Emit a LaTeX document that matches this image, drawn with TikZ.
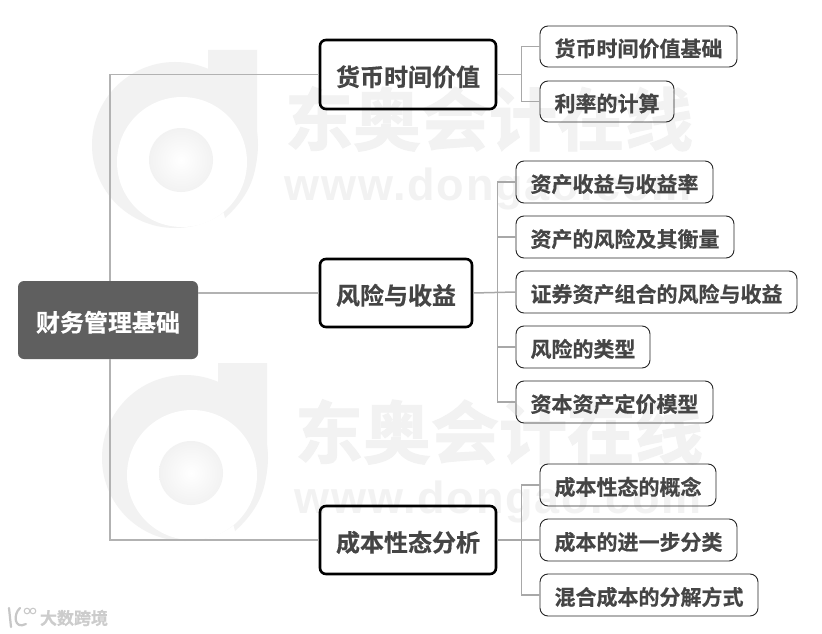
\documentclass[tikz,border=0pt]{standalone}
\usepackage{fontspec}
\newfontfamily\cjkb[FakeBold=0.5]{Noto Sans CJK SC Bold}
\newfontfamily\cjkw[FakeBold=1.6]{Noto Sans CJK SC Bold}
\newfontfamily\wmlat[LetterSpace=4]{Liberation Sans Bold}
\definecolor{wm}{HTML}{F2F2F2}
\definecolor{ink}{HTML}{454545}
\definecolor{rootc}{HTML}{5F5F5F}
\definecolor{linkc}{HTML}{B2B2B2}
\definecolor{linkb}{HTML}{A8A8A8}
\tikzset{
  rootbox/.style={fill=rootc,rounded corners=6,text=white,inner sep=0,text height=23pt,text depth=0pt,font=\cjkb\fontsize{24}{24}\selectfont},
  topicbox/.style={draw=black,line width=2.6,rounded corners=6,text=ink,inner sep=0,text height=23pt,text depth=0pt,font=\cjkb\fontsize{24}{24}\selectfont},
  subbox/.style={draw=black!85,line width=0.9,rounded corners=8,text=ink,inner sep=0,text height=20pt,text depth=0pt,font=\cjkb\fontsize{21}{21}\selectfont},
  link/.style={draw=linkc,line width=1.5},
  sublink/.style={draw=linkb,line width=1.5},
  wmcn/.style={text=wm,inner sep=0,font=\cjkw\fontsize{68}{68}\selectfont},
  wmen/.style={text=wm,inner sep=0,font=\wmlat\fontsize{45}{45}\selectfont},
  brand/.style={text=black!20,inner sep=0,font=\cjkb\fontsize{17}{17}\selectfont}
}
\newcommand{\wmlogo}[2]{%
  \begin{scope}[shift={(#1,#2)}]
    \fill[wm] (175,145) circle[radius=83];
    \fill[wm] (208,50) -- (257,50) -- (257,150) .. controls (257,180) and (245,200) .. (225,218) -- (208,150) -- cycle;
    \fill[white] (182,162) circle[radius=65];
    \shade[inner color=white,outer color=wm] (181,160) circle[radius=32];
    \node[wmcn] (cn#2) at (489,119) {东奥会计在线};
    \node[wmen] (en#2) at (488,189) {www.dongao.com};
  \end{scope}}
\begin{document}
\begin{tikzpicture}[x=1pt,y=-1pt]
\useasboundingbox (0,0) rectangle (822,634);
\fill[white] (0,0) rectangle (822,634);
\wmlogo{0}{0}
\wmlogo{10}{313}
\node[rootbox,minimum width=180,minimum height=78] (root) at (108,320) {财务管理基础};
\node[topicbox,minimum width=176,minimum height=69] (a) at (408,74.5) {货币时间价值};
\node[topicbox,minimum width=152,minimum height=68] (b) at (396,293) {风险与收益};
\node[topicbox,minimum width=176,minimum height=68] (c) at (408,540) {成本性态分析};
\node[subbox,minimum width=197,minimum height=41] (a1) at (638.5,46.5) {货币时间价值基础};
\node[subbox,minimum width=134,minimum height=41] (a2) at (607,101.5) {利率的计算};
\node[subbox,minimum width=197,minimum height=42] (b1) at (614.5,182) {资产收益与收益率};
\node[subbox,minimum width=218,minimum height=42] (b2) at (625,237) {资产的风险及其衡量};
\node[subbox,minimum width=281,minimum height=42] (b3) at (656.5,292) {证券资产组合的风险与收益};
\node[subbox,minimum width=134,minimum height=42] (b4) at (583,347) {风险的类型};
\node[subbox,minimum width=197,minimum height=42] (b5) at (614.5,402) {资本资产定价模型};
\node[subbox,minimum width=176,minimum height=42] (c1) at (628,485) {成本性态的概念};
\node[subbox,minimum width=197,minimum height=42] (c2) at (638.5,540) {成本的进一步分类};
\node[subbox,minimum width=218,minimum height=42] (c3) at (649,595) {混合成本的分解方式};
\coordinate (rt) at ([xshift=2]root.north);
\coordinate (rb) at ([xshift=2]root.south);
\draw[link] (rt) |- (a.west);
\draw[link] (root.east |- b.west) -- (b.west);
\draw[link] (rb) |- (c.west);
\coordinate (ja) at ([xshift=24]a.east);
\coordinate (jb) at ([xshift=24]b.east);
\coordinate (jc) at ([xshift=24]c.east);
\draw[sublink] (a.east) -- (ja);
\draw[sublink] (a1.west) -| (ja) |- (a2.west);
\draw[sublink] (b.east) -- (b3.west);
\draw[sublink] (b1.west) -| (jb) |- (b5.west);
\draw[sublink] (b2.west) -- (jb |- b2.west);
\draw[sublink] (b4.west) -- (jb |- b4.west);
\draw[sublink] (c.east) -- (c2.west);
\draw[sublink] (c1.west) -| (jc) |- (c3.west);
% brand mark
\coordinate (k) at (9,608);
\draw[black!22,line width=2.2,line cap=round] (k) -- (11,627);
\draw[black!22,line width=2.2,line cap=round] (20,608) .. controls (13,614) and (14,630) .. (26,624);
\draw[black!22,line width=1] (27,611) circle[radius=2.8] (33,611) circle[radius=2.8];
\node[brand] (brandtxt) at (74,618) {大数跨境};
\end{tikzpicture}
\end{document}
